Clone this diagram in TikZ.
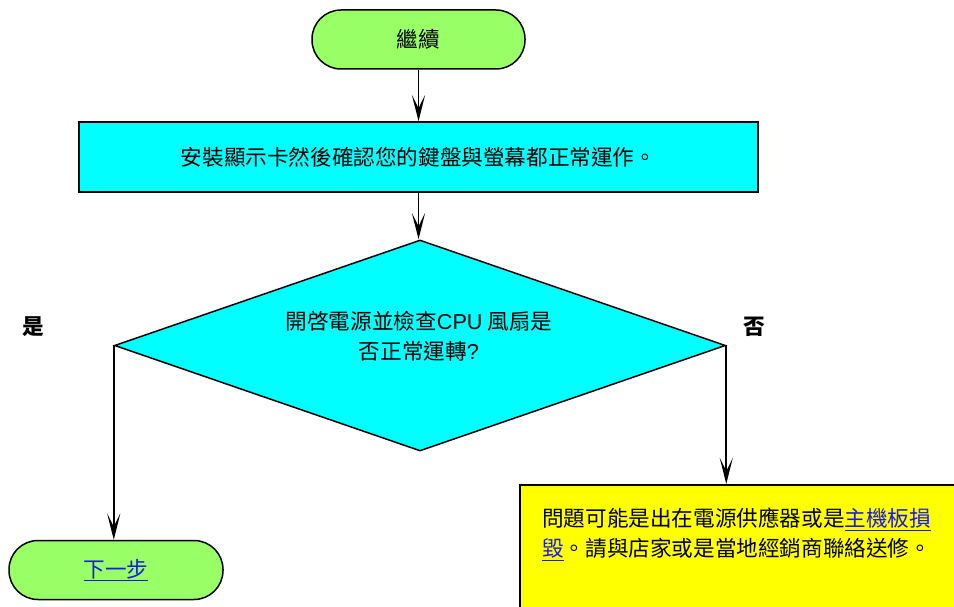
\documentclass[tikz,border=0pt]{standalone}
\usepackage{fontspec}
\setmainfont{Noto Sans CJK TC}
\newfontfamily\latf{Liberation Sans}
\usetikzlibrary{shapes.geometric,arrows.meta}
\definecolor{termgreen}{HTML}{99FF66}
\definecolor{proccyan}{HTML}{00FFFF}
\definecolor{noteyellow}{HTML}{FFFF00}
\definecolor{linkblue}{HTML}{1A1AE6}
\newcommand\lnk[1]{\textcolor{linkblue}{\underline{#1}}}
\begin{document}
\begin{tikzpicture}[x=1pt,y=-1pt,
  every node/.style={font=\fontsize{21.6}{30}\selectfont},
  term/.style={draw=black, line width=1.5pt, fill=termgreen, rounded corners=29pt,
    minimum height=59pt, inner sep=0pt},
  procbox/.style={draw=black, line width=1.5pt, fill=proccyan, minimum width=679pt,
    minimum height=70pt, inner sep=0pt},
  decision/.style={diamond, draw=black, line width=1.5pt, fill=proccyan,
    minimum width=611pt, minimum height=211pt, inner sep=0pt},
  notebox/.style={draw=black, line width=1.5pt, fill=noteyellow, inner sep=0pt,
    minimum width=460pt, minimum height=150pt},
  plain/.style={inner sep=0pt},
  flow/.style={-{Stealth[length=26pt,width=13pt,inset=13pt]}, line width=1.6pt}
]
\useasboundingbox (0,0) rectangle (954,607);
\clip (0,0) rectangle (954,607);

\node[term, minimum width=213pt] (start) at (418.5,39.5) {繼續};
\node[procbox] (step1) at (418.5,157) {安裝顯示卡然後確認您的鍵盤與螢幕都正常運作。};
\node[decision] (check) at (420,345.5) {};
\node[plain, align=center] (checkt) at (419,336.5)
  {開啓電源並檢查{\latf CPU} 風扇是\\否正常運轉{\latf ?}};
\node[plain, font=\fontsize{21.6}{30}\selectfont\bfseries] (yes) at (33,327) {是};
\node[plain, font=\fontsize{21.6}{30}\selectfont\bfseries] (no) at (754,327) {否};
\node[term, minimum width=214pt] (next) at (116,570) {\lnk{下一步}};
\node[notebox, anchor=north west] (fail) at (519,484) {};
\node[plain, anchor=north west, align=left] (failt) at (542,508)
  {問題可能是出在電源供應器或是\lnk{主機板損}\\\lnk{毀}。請與店家或是當地經銷商聯絡送修。};

\draw[flow] (start) -- (step1);
\draw[flow] (step1.south) -- (step1.south |- check.north);
\draw[flow] (check.west) -- (check.west |- next.north);
\draw[flow] (check.east) -- (check.east |- fail.north);
\end{tikzpicture}
\end{document}
